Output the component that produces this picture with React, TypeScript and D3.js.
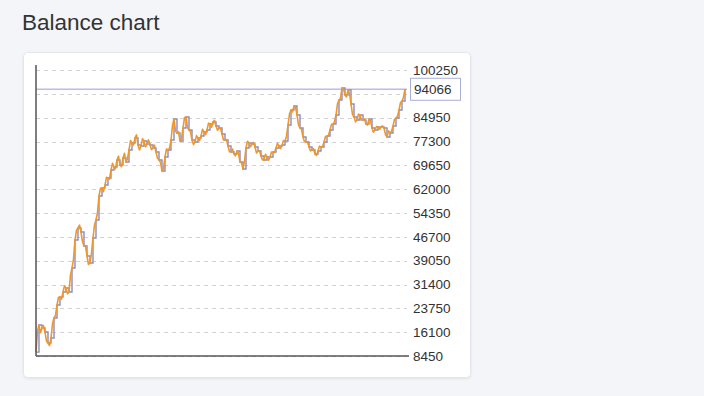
import * as d3 from "d3";

// balance, fine samples across the period (orange)
const balance = [
  9700, 16500, 18400, 15900, 17440, 18200, 16150, 13200, 12620, 11800,
  14230, 18800, 20650, 21500, 24820, 27300, 27390, 26700, 28990, 31000,
  30280, 28400, 28990, 34500, 36700, 39500, 45690, 48800, 49540, 50500,
  48250, 45200, 43760, 43800, 40550, 37800, 38300, 41500, 46330, 50500,
  52100, 54500, 59810, 62300, 62380, 61200, 63340, 65800, 65590, 65200,
  68160, 70300, 69120, 68600, 71370, 72600, 69760, 69200, 72010, 73500,
  70720, 71800, 74580, 77600, 76820, 76200, 78430, 79400, 76180, 74600,
  75860, 78200, 77470, 75600, 76500, 77800, 76180, 74700, 75220, 76100,
  73930, 71900, 71370, 70600, 67840, 68600, 72330, 74900, 74580, 75100,
  77790, 82400, 84530, 80600, 80030, 80400, 77470, 78200, 81640, 84900,
  85170, 81800, 81000, 80400, 77790, 76300, 77140, 79200, 78430, 77600,
  79070, 81200, 80350, 79500, 81000, 83200, 82920, 81900, 83560, 84100,
  82280, 80900, 81640, 81500, 79710, 77800, 77790, 77900, 75860, 74000,
  73930, 74900, 73290, 72700, 74260, 73500, 70720, 70500, 68480, 71000,
  75220, 77400, 76820, 75600, 76500, 77000, 75540, 73600, 74260, 74300,
  72650, 71400, 71370, 73200, 72330, 71300, 72330, 73900, 73930, 73800,
  75220, 76700, 75860, 75000, 76180, 77600, 77470, 79000, 82600, 86200,
  87420, 86800, 88700, 88500, 85810, 82600, 81640, 81200, 78750, 77200,
  77140, 77100, 75540, 74300, 74580, 75000, 73290, 72800, 74260, 75800,
  75540, 75600, 77140, 78900, 79070, 79300, 81000, 82800, 82920, 83600,
  85810, 89400, 90630, 91200, 94480, 94200, 92230, 91600, 93840, 92800,
  89340, 86000, 85170, 83600, 84210, 86100, 85810, 84200, 84210, 84600,
  82920, 82600, 84530, 84000, 81640, 80300, 81000, 82100, 81960, 81200,
  81960, 82300, 81640, 79500, 78750, 80700, 80030, 80600, 82280, 84400,
  84850, 85400, 87420, 89800, 90310, 91500, 94066,
];

// equity, coarse samples (purple step line underneath)
const equity = [
  9700, 18400, 17440, 16150, 12620, 14230, 20650, 24820, 27390, 28990,
  30280, 28990, 36700, 45690, 49540, 48250, 43760, 40550, 38300, 46330,
  52100, 59810, 62380, 63340, 65590, 68160, 69120, 71370, 69760, 72010,
  70720, 74580, 76820, 78430, 76180, 75860, 77470, 76500, 76180, 75220,
  73930, 71370, 67840, 72330, 74580, 77790, 84530, 80030, 77470, 81640,
  85170, 81000, 77790, 77140, 78430, 79070, 80350, 81000, 82920, 83560,
  82280, 81640, 79710, 77790, 75860, 73930, 73290, 74260, 70720, 68480,
  75220, 76820, 76500, 75540, 74260, 72650, 71370, 72330, 72330, 73930,
  75220, 75860, 76180, 77470, 82600, 87420, 88700, 85810, 81640, 78750,
  77140, 75540, 74580, 73290, 74260, 75540, 77140, 79070, 81000, 82920,
  85810, 90630, 94480, 92230, 93840, 89340, 85170, 84210, 85810, 84210,
  82920, 84530, 81640, 81000, 81960, 81960, 81640, 78750, 80030, 82280,
  84850, 87420, 90310, 94066,
];

const yTicks = [
  8450, 16100, 23750, 31400, 39050, 46700, 54350, 62000, 69650, 77300,
  84950, 92600, 100250,
];
const lastValue = 94066;

const W = 704;
const H = 396;
const left = 36;
const right = 405;
const top = 70;
const bottom = 356;

export default function App() {
  const xFine = d3
    .scaleLinear()
    .domain([0, balance.length - 1])
    .range([left, right]);
  const xCoarse = d3
    .scaleLinear()
    .domain([0, equity.length - 1])
    .range([left, right]);
  const y = d3.scaleLinear().domain([8450, 100250]).range([bottom, top]);

  const line = d3
    .line<number>()
    .x((_, i) => xFine(i))
    .y(d => y(d));
  const step = d3
    .line<number>()
    .x((_, i) => xCoarse(i))
    .y(d => y(d))
    .curve(d3.curveStepAfter);

  const font = "'Liberation Sans', Arial, sans-serif";

  return (
    <div style={{ position: "fixed", left: 0, top: 0, width: W, height: H, background: "#f4f5f9" }}>
      <svg width={W} height={H} style={{ display: "block" }}>
        <defs>
          <filter id="sh" x="-5%" y="-5%" width="110%" height="110%">
            <feDropShadow dx="0" dy="1" stdDeviation="1.2" floodColor="#000" floodOpacity="0.08" />
          </filter>
        </defs>
        <text x={22} y={30} fontFamily={font} fontSize={22.5} fill="#333">
          Balance chart
        </text>
        <rect x={23.5} y={52.5} width={447} height={325} rx={4} fill="#fff" stroke="#e4e6ec" filter="url(#sh)" />

        {yTicks.map(t => (
          <line
            key={t}
            x1={left}
            x2={right + 2}
            y1={Math.round(y(t)) + 0.5}
            y2={Math.round(y(t)) + 0.5}
            stroke="#d2d2d2"
            strokeDasharray="4,4"
          />
        ))}

        <line x1={left} x2={right + 2} y1={y(lastValue)} y2={y(lastValue)} stroke="#b9bbea" strokeWidth={1.5} />

        <path d={step(equity) ?? undefined} fill="none" stroke="#8a8cbf" strokeWidth={1.4} />
        <path d={line(balance) ?? undefined} fill="none" stroke="#f0962a" strokeWidth={1.6} strokeLinejoin="round" />

        <line x1={left} x2={left} y1={65} y2={bottom} stroke="#555" strokeWidth={1.5} />
        <line x1={left} x2={right + 4} y1={bottom} y2={bottom} stroke="#555" strokeWidth={1.5} />

        {yTicks
          .filter(t => Math.abs(y(t) - y(lastValue)) > 12)
          .map(t => (
            <text
              key={t}
              x={413}
              y={y(t)}
              dy="0.35em"
              fontFamily={font}
              fontSize={13.5}
              fill="#333"
            >
              {t}
            </text>
          ))}

        <rect x={410.5} y={y(lastValue) - 11} width={50} height={22} fill="#fff" stroke="#a9afd8" />
        <text x={414} y={y(lastValue)} dy="0.35em" fontFamily={font} fontSize={13.5} fill="#333">
          {lastValue}
        </text>
      </svg>
    </div>
  );
}
